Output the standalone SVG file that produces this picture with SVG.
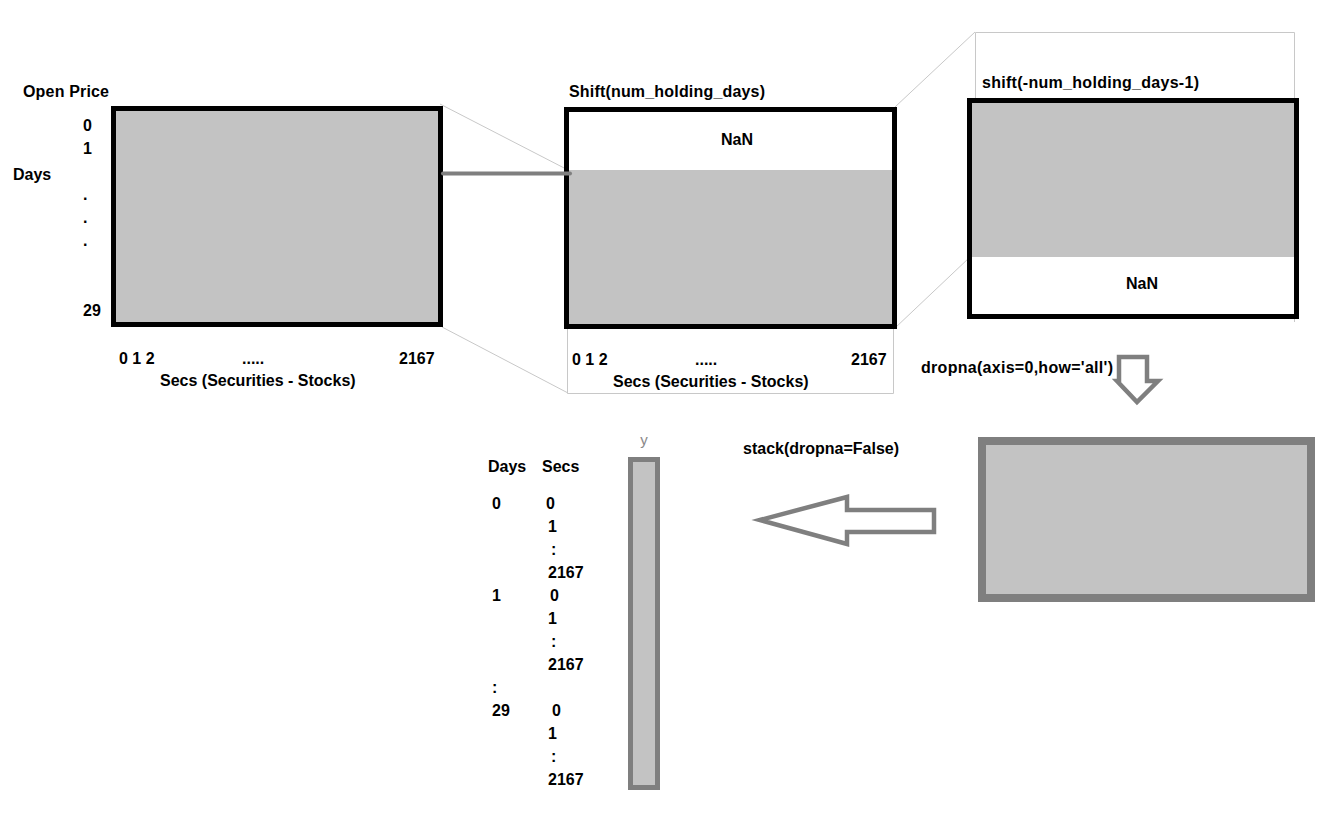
<svg xmlns="http://www.w3.org/2000/svg" width="1336" height="822" viewBox="0 0 1336 822">
  <style>
    text { font-family: "Liberation Sans", Arial, sans-serif; font-weight: bold; font-size: 16px; fill: #000; }
    .mid { text-anchor: middle; }
    .frame { fill: none; stroke: #000; stroke-width: 5; }
    .cell { fill: #c3c3c3; stroke: none; }
    .guide { fill: none; stroke: #c8c8c8; stroke-width: 1; }
    .grayBox { fill: #c3c3c3; stroke: #7f7f7f; }
    .hollow { fill: #fff; stroke: #7f7f7f; stroke-width: 4.5; stroke-linejoin: miter; }
    .ylabel { font-weight: normal; font-size: 15px; fill: #8a8a8a; }
  </style>

  <!-- projection guides between the frames -->
  <g id="guides">
    <line class="guide" x1="440" y1="104" x2="568" y2="170"/>
    <line class="guide" x1="442" y1="327" x2="568" y2="393"/>
    <polyline class="guide" points="567.5,327 567.5,393.5 893.5,393.5 893.5,327"/>
    <line class="guide" x1="895" y1="107" x2="975" y2="32"/>
    <line class="guide" x1="895" y1="328" x2="970" y2="257"/>
    <polyline class="guide" points="975.5,98 975.5,32.5 1294.5,32.5 1294.5,98"/>
    <line class="guide" x1="1294.5" y1="319" x2="1294.5" y2="322"/>
  </g>

  <!-- open price frame -->
  <g id="open-price">
    <rect class="cell" x="113" y="108" width="328" height="217"/>
    <rect class="frame" x="113.5" y="108.5" width="327" height="216"/>
    <text x="23" y="97" textLength="86">Open Price</text>
    <text x="83" y="131">0</text>
    <text x="83" y="154">1</text>
    <text x="13" y="180">Days</text>
    <text x="83" y="200">.</text>
    <text x="83" y="223">.</text>
    <text x="83" y="246">.</text>
    <text x="83" y="316">29</text>
    <text x="119" y="364">0 1 2</text>
    <text x="242" y="364">.....</text>
    <text x="399" y="364">2167</text>
    <text x="160" y="386">Secs (Securities - Stocks)</text>
  </g>

  <!-- shifted frame -->
  <g id="shift-forward">
    <rect x="567" y="110" width="327" height="217" fill="#fff"/>
    <rect class="cell" x="569" y="170" width="323" height="157"/>
    <rect class="frame" x="566.5" y="109.5" width="328" height="217"/>
    <text x="569" y="97" textLength="196">Shift(num_holding_days)</text>
    <text class="mid" x="737" y="145">NaN</text>
    <text x="572" y="365">0 1 2</text>
    <text x="695" y="365">.....</text>
    <text x="851" y="365">2167</text>
    <text x="613" y="387">Secs (Securities - Stocks)</text>
  </g>

  <!-- back-shifted frame -->
  <g id="shift-back">
    <rect x="970" y="100" width="327" height="217" fill="#fff"/>
    <rect class="cell" x="972" y="103" width="324" height="154"/>
    <line x1="972" y1="315" x2="1296" y2="315" stroke="#c8c8c8" stroke-width="1"/>
    <rect class="frame" x="969.5" y="100.5" width="327" height="216"/>
    <text x="982" y="88" textLength="217">shift(-num_holding_days-1)</text>
    <text class="mid" x="1142" y="289">NaN</text>
  </g>

  <!-- result after dropna -->
  <g id="dropped">
    <rect class="grayBox" x="982" y="441" width="329" height="157" stroke-width="8"/>
  </g>

  <!-- stacked column -->
  <g id="stacked">
    <rect class="grayBox" x="630.5" y="459.5" width="27" height="328" stroke-width="5"/>
    <text class="ylabel mid" x="644" y="445">y</text>
    <text x="488" y="472">Days</text>
    <text x="542" y="472">Secs</text>
    <text x="492" y="509">0</text>
    <text x="546" y="509">0</text>
    <text x="548" y="532">1</text>
    <text x="551" y="555">:</text>
    <text x="548" y="578">2167</text>
    <text x="492" y="601">1</text>
    <text x="550" y="601">0</text>
    <text x="548" y="624">1</text>
    <text x="551" y="647">:</text>
    <text x="548" y="670">2167</text>
    <text x="492" y="693">:</text>
    <text x="492" y="716">29</text>
    <text x="552" y="716">0</text>
    <text x="548" y="739">1</text>
    <text x="551" y="762">:</text>
    <text x="548" y="785">2167</text>
  </g>

  <!-- connectors -->
  <g id="connectors">
    <line x1="443" y1="173.5" x2="570" y2="173.5" stroke="#7f7f7f" stroke-width="4" stroke-linecap="round"/>
    <polygon class="hollow" points="1119,357 1147,357 1147,381 1158,381 1137,402 1117,381 1119,381"/>
    <text x="921" y="373" textLength="192">dropna(axis=0,how='all')</text>
    <polygon class="hollow" points="760,520 847,497 847,510 934,510 934,532 847,532 847,544"/>
    <text x="743" y="454">stack(dropna=False)</text>
  </g>
</svg>
